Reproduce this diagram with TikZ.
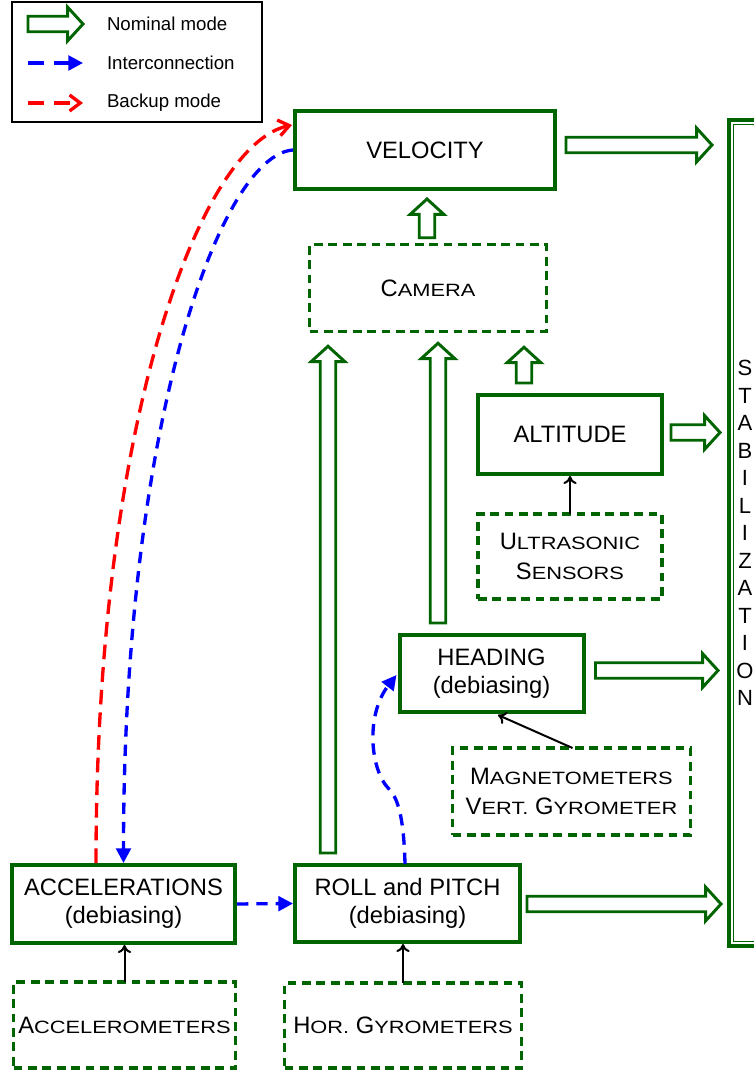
\documentclass[tikz,border=0pt]{standalone}
\usepackage{fontspec}
\setmainfont{Liberation Sans}
\usetikzlibrary{calc,arrows.meta}
\definecolor{dkgreen}{RGB}{0,100,0}
% fonts
\newcommand\nodefont{\fontsize{17.8pt}{21pt}\selectfont}
\newcommand\sensfont{\fontsize{17.8pt}{23pt}\selectfont}
\newcommand\legfont{\fontsize{14pt}{16pt}\selectfont}
\newcommand\stabfont{\fontsize{16.5pt}{20.6pt}\selectfont}
% synthetic small capitals
\newcommand\smc[1]{\scalebox{0.92}[0.75]{#1}}
% hollow block arrows: horizontal (rightwards) and vertical (upwards)
\newcommand\fatright[2]{%
  \draw[fat] let \p1=#1, \p2=#2 in
    (\x1,\y1+5.8pt) -- (\x2-11.5pt,\y1+5.8pt) -- (\x2-11.5pt,\y1+12.6pt) -- (\x2,\y1)
    -- (\x2-11.5pt,\y1-12.6pt) -- (\x2-11.5pt,\y1-5.8pt) -- (\x1,\y1-5.8pt) -- cycle;}
\newcommand\fatup[2]{%
  \draw[fat] let \p1=#1, \p2=#2 in
    (\x1-5.8pt,\y1) -- (\x1-5.8pt,\y2-11.5pt) -- (\x1-12.6pt,\y2-11.5pt) -- (\x1,\y2)
    -- (\x1+12.6pt,\y2-11.5pt) -- (\x1+5.8pt,\y2-11.5pt) -- (\x1+5.8pt,\y1) -- cycle;}
\begin{document}
\begin{tikzpicture}[x=0.75pt,y=-0.75pt,
  every node/.style={outer sep=0pt, inner sep=0pt},
  sz/.style 2 args={minimum width=#1*0.75pt, minimum height=#2*0.75pt},
  block/.style={draw=dkgreen, line width=3pt, align=center, font=\nodefont},
  sensor/.style={draw=dkgreen, line width=2.3pt, dash pattern=on 6.6pt off 4.2pt,
    align=center, font=\sensfont},
  fat/.style={draw=dkgreen, line width=2.2pt, fill=white, line join=miter},
  inter/.style={draw=blue, line width=2.5pt, dash pattern=on 8.5pt off 6pt,
    -{Triangle[length=11pt,width=11pt]}},
  backup/.style={draw=red, line width=2.5pt, dash pattern=on 11pt off 6pt,
    -{Straight Barb[length=8pt,width=12pt]}},
  sense/.style={draw=black, line width=1.5pt, -{To[length=6pt,width=10pt]}},
  legtext/.style={anchor=west, font=\legfont}]

\fill[white] (0,0) rectangle (753,1073);
\useasboundingbox (0,0) rectangle (753,1073);

% legend
\node[draw=black, line width=1pt, sz={250}{120}] (legend) at (137,62) {};
\coordinate (la1) at (28,24);  \coordinate (lb1) at (83,24);
\coordinate (la2) at (28,63);  \coordinate (lb2) at (83,63);
\coordinate (la3) at (28,103); \coordinate (lb3) at (83,103);
\fatright{(la1)}{(lb1)}
\draw[inter, dash pattern=on 12pt off 7.5pt] (la2) -- (lb2);
\draw[backup, dash pattern=on 12pt off 7.5pt] (la3) -- (lb3);
\node[legtext] (tnom) at (107,24) {Nominal mode};
\node[legtext] (tint) at (107,63) {Interconnection};
\node[legtext] (tbak) at (107,103) {Backup mode};

% estimation blocks and sensors
\node[block, sz={260}{78}] (vel) at (425,150) {VELOCITY};
\node[sensor, sz={237}{86.5}] (cam) at (428,288) {C\smc{AMERA}};
\node[block, sz={184}{79}] (alt) at (570,434.5) {ALTITUDE};
\node[sensor, sz={184}{85}] (ultra) at (570,556.5) {U\smc{LTRASONIC}\\S\smc{ENSORS}};
\node[block, sz={184}{77}] (head) at (491.5,673.5) {HEADING\\(debiasing)};
\node[sensor, sz={238}{87}] (mag) at (571.5,791.5) {M\smc{AGNETOMETERS}\\V\smc{ERT.} G\smc{YROMETER}};
\node[block, sz={225}{77}] (roll) at (407.5,903.5) {ROLL and PITCH\\(debiasing)};
\node[sensor, sz={237}{85}] (gyro) at (403,1025.5) {H\smc{OR.} G\smc{YROMETERS}};
\node[block, sz={223}{78}] (acc) at (123.5,904) {ACCELERATIONS\\(debiasing)};
\node[sensor, sz={222}{86}] (accm) at (124.5,1025) {A\smc{CCELEROMETERS}};

% stabilization column (double border)
\node[draw=dkgreen, line width=3pt, sz={32}{826}, align=center, font=\stabfont]
  (stab) at (745,533) {S\\T\\A\\B\\I\\L\\I\\Z\\A\\T\\I\\O\\N};
\draw[dkgreen, line width=1.2pt] ($(stab.north west)+(4.5,4.5)$) rectangle ($(stab.south east)+(-4.5,-4.5)$);

% nominal data flow
\fatright{($(vel.east)+(11,-5)$)}{($(stab.west)+(-17,0)$)}
\fatright{($(alt.east)+(9,-2)$)}{($(stab.west)+(-9,0)$)}
\fatright{($(head.east)+(12,-3)$)}{($(stab.west)+(-11,0)$)}
\fatright{($(roll.east)+(7,0.5)$)}{($(stab.west)+(-8,0)$)}
\fatup{($(cam.north)+(-1,-7)$)}{($(vel.south)+(0,10)$)}
\fatup{($(roll.north)+(-79.5,-12)$)}{($(cam.south)+(0,15)$)}
\fatup{($(head.north)+(-53.5,-12)$)}{($(cam.south)+(0,12)$)}
\fatup{($(alt.north)+(-46,-12)$)}{($(cam.south)+(0,16)$)}

% sensor inputs
\draw[sense, shorten >=1.5pt] (ultra.north) -- (alt.south);
\draw[sense] ($(mag.north)+(1,0)$) -- ($(head.south)+(6.5,3)$);
\draw[sense, shorten >=1.5pt] (gyro.north) -- (gyro.north |- roll.south);
\draw[sense, shorten >=1.5pt] (accm.north) -- (accm.north |- acc.south);

% interconnections
\draw[inter, shorten <=1.5pt, shorten >=1.5pt] (acc.east) -- (roll.west);
\draw[inter] ($(roll.north)+(-2.5,-1)$) .. controls +(-1,-38) and +(11,11) .. ++(-16,-75)
  .. controls +(-19,-19) and +(-31,40) .. ($(head.west)+(-3,1.5)$);
\draw[inter] ($(vel.west)+(-2,0)$) .. controls +(-72,5) and +(0,-442) .. ($(acc.north)+(0,-2)$);

% backup mode
\draw[backup] ($(acc.north)+(-27.5,-2)$) .. controls +(0,-442) and +(-92,20) .. ($(vel.west)+(-3,-25)$);
\end{tikzpicture}
\end{document}
